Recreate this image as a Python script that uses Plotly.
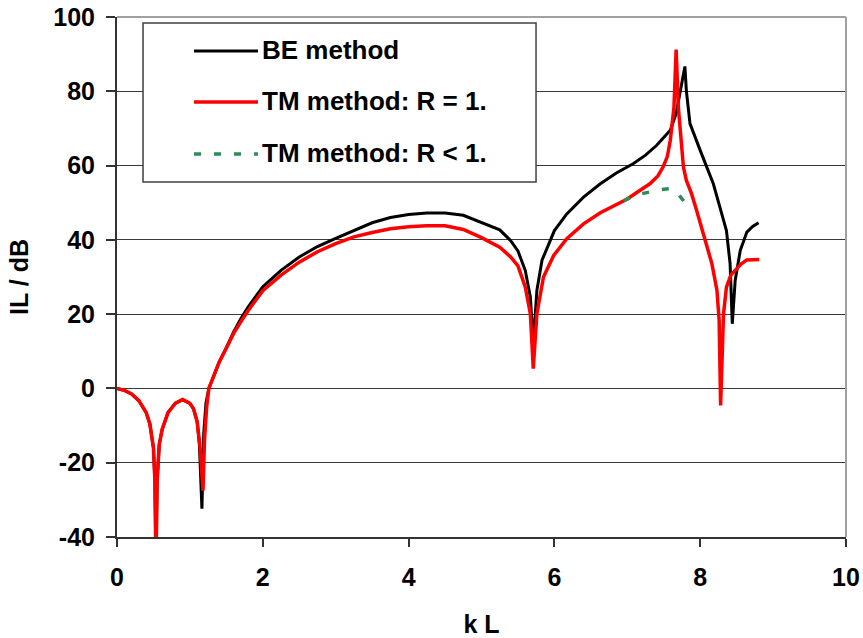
import plotly.graph_objects as go

# Insertion loss vs. non-dimensional wavenumber kL
series_names = ["BE method", "TM method: R = 1.", "TM method: R < 1."]

kl_be = [0.0, 0.1, 0.2, 0.3, 0.4, 0.45, 0.5, 0.52, 0.535, 0.55,
         0.58, 0.62, 0.7, 0.8, 0.9, 1.0, 1.05, 1.1, 1.13, 1.165,
         1.19, 1.22, 1.26, 1.3, 1.4, 1.5, 1.6, 1.7, 1.8, 2.0,
         2.25, 2.5, 2.75, 3.0, 3.25, 3.5, 3.75, 4.0, 4.25, 4.5,
         4.75, 5.0, 5.25, 5.4, 5.5, 5.6, 5.67, 5.71, 5.76, 5.83,
         6.0, 6.17, 6.4, 6.63, 6.85, 7.08, 7.25, 7.4, 7.5, 7.59,
         7.67, 7.73, 7.79, 7.81, 7.86, 8.0, 8.18, 8.27, 8.36, 8.41,
         8.44, 8.48, 8.55, 8.64, 8.72, 8.8]
il_be = [0.0, -0.5, -1.5, -3.3, -6.5, -9.5, -16, -25, -48, -25,
         -15, -11, -6.5, -4, -3, -4, -5.5, -9, -15, -32.4,
         -12, -4, 0, 2, 7, 11, 15.2, 18.8, 22, 27.4,
         31.8, 35.4, 38.2, 40.4, 42.6, 44.6, 46, 46.8, 47.2, 47.2,
         46.6, 44.6, 42.7, 39.8, 37, 31.8, 24.6, 12, 26.4, 34.5,
         42.5, 47, 51.5, 55.1, 58, 60.5, 62.8, 65.4, 67.5, 69.5,
         74, 80, 86.7, 80.2, 71.3, 64.1, 55.1, 48.8, 42.5, 33.6,
         17.4, 29.1, 37.2, 42.1, 43.6, 44.6]

kl_tm = [0.0, 0.1, 0.2, 0.3, 0.4, 0.45, 0.5, 0.52, 0.535, 0.55,
         0.58, 0.62, 0.7, 0.8, 0.9, 1.0, 1.05, 1.1, 1.14, 1.18,
         1.2, 1.23, 1.26, 1.3, 1.4, 1.5, 1.6, 1.7, 1.8, 2.0,
         2.25, 2.5, 2.75, 3.0, 3.25, 3.5, 3.75, 4.0, 4.25, 4.5,
         4.75, 5.0, 5.25, 5.4, 5.5, 5.6, 5.67, 5.71, 5.76, 5.85,
         5.99, 6.17, 6.4, 6.63, 6.9, 7.0, 7.15, 7.31, 7.42, 7.49,
         7.55, 7.59, 7.64, 7.67, 7.70, 7.77, 7.81, 7.88, 7.95, 8.04,
         8.1, 8.16, 8.23, 8.26, 8.28, 8.3, 8.32, 8.36, 8.42, 8.48,
         8.56, 8.64, 8.72, 8.81]
il_tm = [0.0, -0.5, -1.5, -3.3, -6.5, -9.5, -16, -25, -48, -25,
         -15, -11, -6.5, -4, -3, -4, -5.5, -9, -16, -27.5,
         -14, -5, 0, 2, 7, 10.8, 14.8, 18, 21, 26.3,
         30.5, 34, 36.8, 39, 40.8, 42, 43, 43.5, 43.8, 43.8,
         42.8, 40.6, 38, 35.4, 33, 27.3, 20.1, 5.3, 20.1, 30,
         35.8, 40.3, 44.3, 47.3, 50, 51, 53, 55.1, 57.2, 59.6,
         62.5, 66.8, 75.7, 91.2, 75.7, 59.6, 56, 52.5, 48, 42,
         38, 33.6, 26.4, 18.3, -4.6, 9, 20.1, 27.3, 30.5, 31.8,
         33.5, 34.6, 34.7, 34.7]

kl_tmr = [6.95, 7.01, 7.15, 7.31, 7.45, 7.59, 7.7, 7.82]
il_tmr = [50.5, 51.1, 52.2, 52.9, 53.5, 53.8, 52.3, 49.3]

x_ticks = [0, 2, 4, 6, 8, 10]
y_ticks = [-40, -20, 0, 20, 40, 60, 80, 100]

FONT = "Liberation Sans, Arial, sans-serif"
colors = ["#000000", "#ff0000", "#2e8b57"]
widths = [3, 3.5, 3.5]
dashes = ["solid", "solid", "7px,13px"]

fig = go.Figure()
for name, xs, ys, c, w, d in zip(series_names,
                                 [kl_be, kl_tm, kl_tmr],
                                 [il_be, il_tm, il_tmr],
                                 colors, widths, dashes):
    fig.add_trace(go.Scatter(x=xs, y=ys, mode="lines", name=name,
                             line=dict(color=c, width=w, dash=d),
                             showlegend=False))

# plot-area frame (top and right edges)
fig.add_shape(type="line", xref="paper", yref="paper", x0=0, x1=1, y0=1, y1=1,
              line=dict(color="#a0a0a0", width=2))
fig.add_shape(type="line", xref="paper", yref="paper", x0=1, x1=1, y0=0, y1=1,
              line=dict(color="#a0a0a0", width=2))

# legend box
fig.add_shape(type="rect", xref="paper", yref="paper",
              x0=0.0357, x1=0.5748, y0=0.6827, y1=0.9885,
              line=dict(color="#404040", width=1.5), fillcolor="white",
              layer="above")
legend_y = [0.9346, 0.8365, 0.7365]
for name, c, w, d, ly in zip(series_names, colors, widths, dashes, legend_y):
    fig.add_shape(type="line", xref="paper", yref="paper",
                  x0=0.1056, x1=0.1934, y0=ly, y1=ly,
                  line=dict(color=c, width=w, dash=d), layer="above")
    fig.add_annotation(xref="paper", yref="paper", x=0.1960, y=ly + 0.002,
                       xanchor="left", yanchor="middle", showarrow=False,
                       text=name,
                       font=dict(family=FONT, size=26, color="black", weight="bold"))

fig.update_xaxes(range=[0, 10], tickvals=x_ticks, ticktext=[str(v) for v in x_ticks],
                 ticks="outside", ticklen=8, tickwidth=1.5, tickcolor="#333",
                 showline=True, linecolor="#333", linewidth=2,
                 showgrid=False, zeroline=False, ticklabelstandoff=9,
                 tickfont=dict(family=FONT, size=25, color="black", weight="bold"),
                 title=dict(text="k L", standoff=25,
                            font=dict(family=FONT, size=25, color="black", weight="bold")))
fig.update_yaxes(range=[-40, 100], tickvals=y_ticks, ticktext=[str(v) for v in y_ticks],
                 ticks="outside", ticklen=9, tickwidth=1.5, tickcolor="#333",
                 showline=True, linecolor="#333", linewidth=2,
                 showgrid=True, gridcolor="#3a3a3a", gridwidth=1, zeroline=False,
                 ticklabelstandoff=6,
                 tickfont=dict(family=FONT, size=25, color="black", weight="bold"),
                 title=dict(text="IL / dB", standoff=18,
                            font=dict(family=FONT, size=25, color="black", weight="bold")))

fig.update_layout(width=863, height=638,
                  margin=dict(l=117, r=17, t=17, b=101, autoexpand=False),
                  paper_bgcolor="white", plot_bgcolor="white")

fig.write_html("out.html")
